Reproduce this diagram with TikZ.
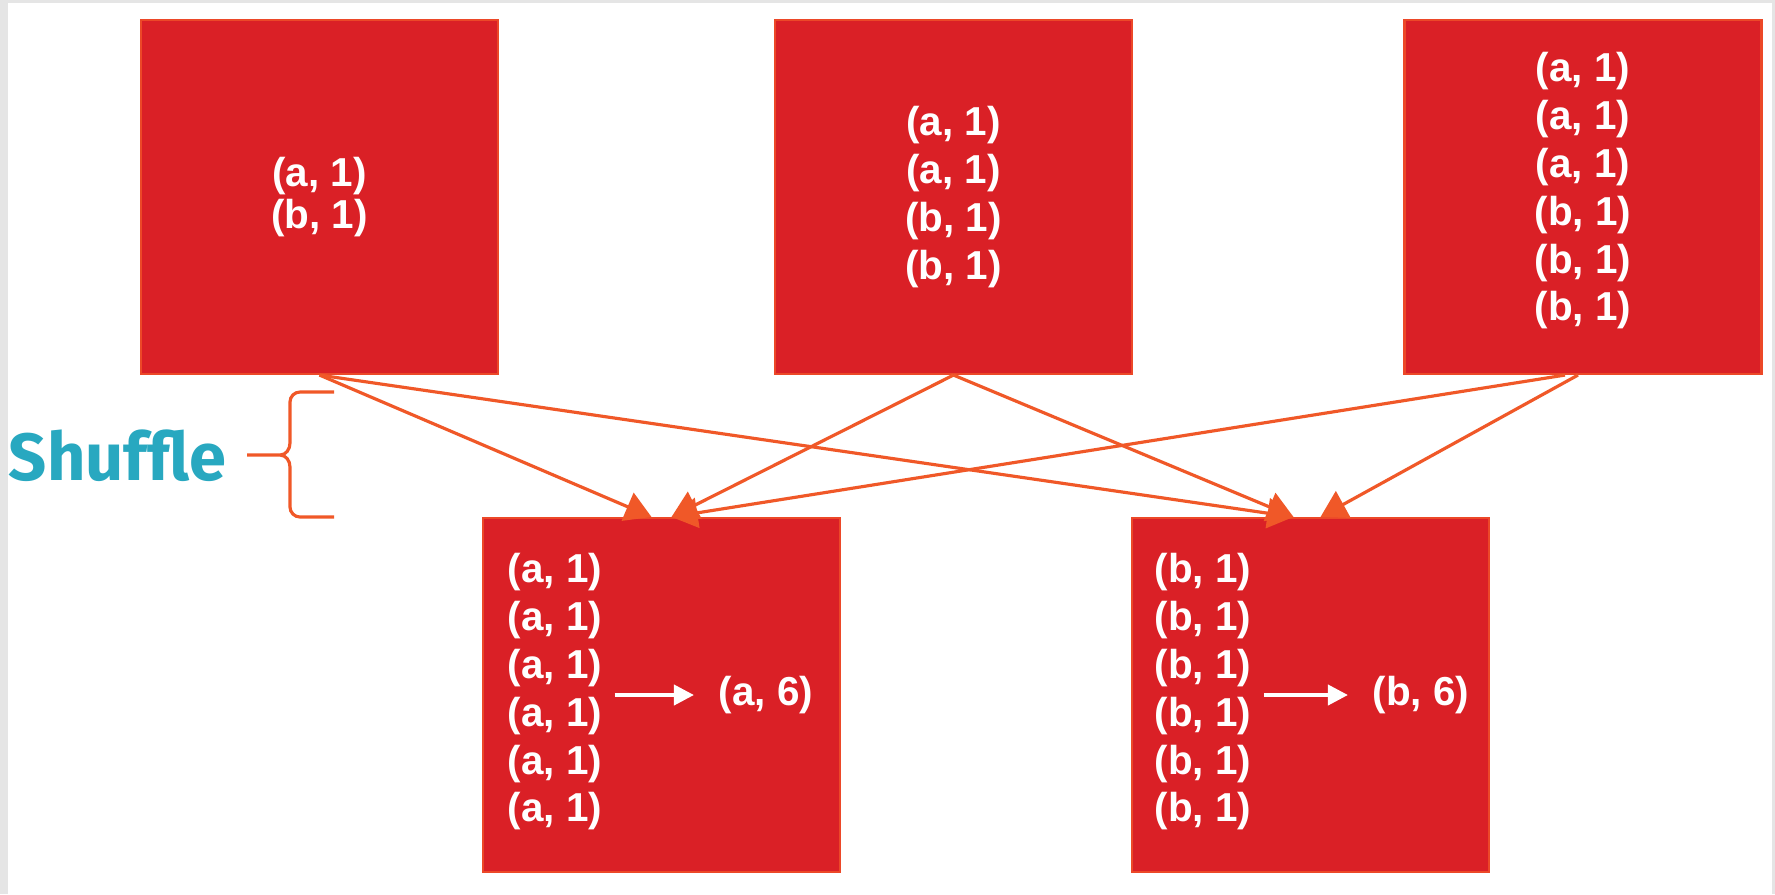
\documentclass[tikz,border=0pt]{standalone}
\usepackage{fontspec}
\setmainfont{Liberation Sans}
\newfontfamily\shufflefont{Fira Sans}
\usetikzlibrary{arrows.meta}

\definecolor{boxred}{RGB}{218,32,38}
\definecolor{boxedge}{RGB}{236,72,40}
\definecolor{shuffleline}{RGB}{240,88,40}
\definecolor{shuffleteal}{RGB}{40,168,192}

\begin{document}
\begin{tikzpicture}[->,>={Triangle[length=0.26cm,width=0.3cm]},
    pairbox/.style = {rectangle,
                      draw = boxedge,
                      fill = boxred,
                      line width = 0.6pt,
                      minimum width = 3.57cm,
                      minimum height = 3.54cm},
    pairtext/.style = {text = white,
                       align = center,
                       font = \bfseries\fontsize{11.5}{13.6}\selectfont},
    flowline/.style = {color = shuffleline, line width = 0.9pt},
    sumarrow/.style = {draw = white, fill = white, line width = 1.1pt,
                       -{Triangle[length=0.2cm,width=0.2cm]},
                       shorten > = 0.12cm}]

    % page frame
    \fill[-,gray!20] (0,0) rectangle (17.75,-8.94);
    \fill[-,white] (0.08,-0.03) rectangle (17.72,-8.94);
    \useasboundingbox (0,0) rectangle (17.75,-8.94);

    % map side
    \node[pairbox] (map1) at (3.195,-1.97) {};
    \node[pairtext] at (map1.center) {(a, 1)\\[-1.7pt](b, 1)};

    \node[pairbox] (map2) at (9.535,-1.97) {};
    \node[pairtext] at (map2.center) {(a, 1)\\(a, 1)\\(b, 1)\\(b, 1)};

    \node[pairbox] (map3) at (15.83,-1.97) {};
    \node[pairtext] at ([yshift=0.06cm]map3.center)
        {(a, 1)\\(a, 1)\\(a, 1)\\(b, 1)\\(b, 1)\\(b, 1)};

    % reduce side
    \node[pairbox] (red1) at (6.615,-6.95) {};
    \node[pairtext, align=left, anchor=west, inner sep=0.12cm] (list1)
        at ([xshift=0.13cm, yshift=0.03cm]red1.west)
        {(a, 1)\\(a, 1)\\(a, 1)\\(a, 1)\\(a, 1)\\(a, 1)};
    \node[pairtext, anchor=west, inner sep=0.12cm] (sum1)
        at ([xshift=2.24cm]red1.west) {(a, 6)};

    \node[pairbox] (red2) at (13.105,-6.95) {};
    \node[pairtext, align=left, anchor=west, inner sep=0.12cm] (list2)
        at ([xshift=0.11cm, yshift=0.03cm]red2.west)
        {(b, 1)\\(b, 1)\\(b, 1)\\(b, 1)\\(b, 1)\\(b, 1)};
    \node[pairtext, anchor=west, inner sep=0.12cm] (sum2)
        at ([xshift=2.29cm]red2.west) {(b, 6)};

    \draw[sumarrow] (list1.east |- sum1.west) -- (sum1.west);
    \draw[sumarrow] (list2.east |- sum2.west) -- (sum2.west);

    % shuffle label and brace
    \node[text = shuffleteal,
          font = \shufflefont\bfseries\fontsize{19}{19}\selectfont
          ] (shuffle) at (1.175,-4.56) {Shuffle};

    \coordinate (brtop) at (3.34,-3.92);
    \coordinate (brbot) at (3.34,-5.17);
    \coordinate (brtip) at (2.47,-4.55);
    \draw[-, shuffleline, line width=0.9pt]
        (brtop) -- (3.00,-3.92) to[out=180,in=90] (2.90,-4.02)
        -- (2.90,-4.43) to[out=-90,in=0] (2.80,-4.55) -- (brtip)
        (2.80,-4.55) to[out=0,in=90] (2.90,-4.67)
        -- (2.90,-5.07) to[out=-90,in=180] (3.00,-5.17) -- (brbot);

    \path[flowline]
    %map1 paths
    (map1.south) edge ([xshift=-0.1cm]red1.north)
    (map1.south) edge ([xshift=-0.17cm]red2.north)
    %map2 paths
    (map2.south) edge ([xshift=0.1cm]red1.north)
    (map2.south) edge ([xshift=-0.17cm]red2.north)
    %map3 paths
    ([xshift=-0.18cm]map3.south) edge ([xshift=0.1cm]red1.north)
    ([xshift=-0.05cm]map3.south) edge ([xshift=0.1cm]red2.north);

\end{tikzpicture}
\end{document}
